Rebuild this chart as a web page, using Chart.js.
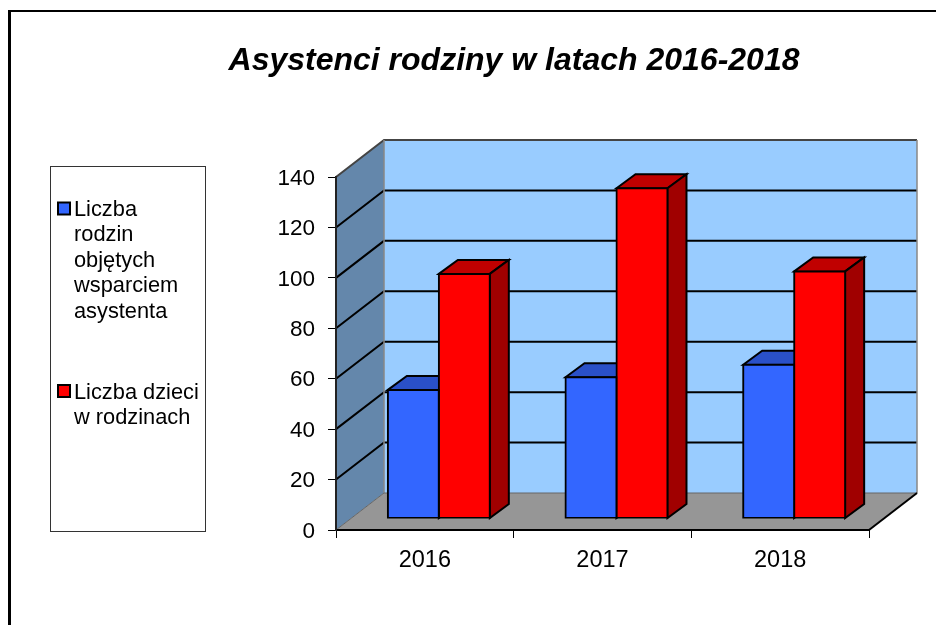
<!DOCTYPE html>
<html lang="pl">
<head>
<meta charset="utf-8">
<title>Asystenci rodziny w latach 2016-2018</title>
<script src="https://cdn.jsdelivr.net/npm/chart.js@4"></script>
<style>
html,body{margin:0;padding:0;background:#fff;overflow:hidden}
#wrap{position:relative;width:936px;height:625px}
#frame{position:absolute;left:8px;top:10px;right:-10px;bottom:-10px;border-left:3px solid #000;border-top:2px solid #000}
canvas{position:absolute;left:0;top:0}
</style>
</head>
<body>
<div id="wrap">
<div id="frame"></div>
<canvas id="c" width="936" height="625"></canvas>
</div>
<script>
const chartTitle = 'Asystenci rodziny w latach 2016-2018';
const categories = ['2016', '2017', '2018'];
const familyValues = [51, 56, 61];
const childValues = [97, 131, 98];
const familyLabel = ['Liczba', 'rodzin', 'objętych', 'wsparciem', 'asystenta'];
const childLabel = ['Liczba dzieci', 'w rodzinach'];
const axisMax = 140;
const axisStep = 20;

const wallDepth = {x: 48, y: -37};
const barShift = {x: 14, y: -11.5};
const barDepth = {x: 19, y: -14};
const FONT = '"Liberation Sans", Arial, sans-serif';

function poly(ctx, pts, fill, stroke, lw) {
  ctx.beginPath();
  pts.forEach((p, i) => i ? ctx.lineTo(p[0], p[1]) : ctx.moveTo(p[0], p[1]));
  ctx.closePath();
  if (fill) { ctx.fillStyle = fill; ctx.fill(); }
  if (stroke) { ctx.strokeStyle = stroke; ctx.lineWidth = lw; ctx.lineJoin = 'miter'; ctx.stroke(); }
}

const scene3d = {
  id: 'scene3d',
  afterLayout(chart) {
    const t = chart.titleBlock;
    t.left = 92; t.right = 936;
  },
  beforeDraw(chart) {
    const {ctx, chartArea: a, scales: {x, y}} = chart;
    const d = wallDepth, top = a.top, bot = a.bottom, l = a.left, r = a.right;
    // Optical centring of the tick labels on their tick marks
    y.getLabelItems().forEach(it => { it.textOffset = 1.5; });
    ctx.save();
    poly(ctx, [[l + d.x, top + d.y], [r + d.x, top + d.y], [r + d.x, bot + d.y], [l + d.x, bot + d.y]], '#99CCFF');
    poly(ctx, [[l, top], [l + d.x, top + d.y], [l + d.x, bot + d.y], [l, bot]], '#6487AB');
    poly(ctx, [[l, bot], [r, bot], [r + d.x, bot + d.y], [l + d.x, bot + d.y]], '#969696');
    ctx.lineCap = 'butt';
    for (let v = axisStep; v < axisMax; v += axisStep) {
      const py = y.getPixelForValue(v);
      ctx.strokeStyle = '#000'; ctx.lineWidth = 2;
      ctx.beginPath();
      ctx.moveTo(l, py); ctx.lineTo(l + d.x, py + d.y); ctx.lineTo(r + d.x, py + d.y);
      ctx.stroke();
    }
    ctx.strokeStyle = '#444'; ctx.lineWidth = 2;
    ctx.beginPath();
    ctx.moveTo(l, top); ctx.lineTo(l + d.x, top + d.y); ctx.lineTo(r + d.x, top + d.y);
    ctx.stroke();
    ctx.strokeStyle = '#888'; ctx.lineWidth = 1.5;
    ctx.beginPath();
    ctx.moveTo(r + d.x, top + d.y); ctx.lineTo(r + d.x, bot + d.y);
    ctx.moveTo(l + d.x, top + d.y); ctx.lineTo(l + d.x, bot + d.y);
    ctx.stroke();
    ctx.strokeStyle = '#666'; ctx.lineWidth = 1;
    ctx.beginPath();
    ctx.moveTo(l, bot); ctx.lineTo(l + d.x, bot + d.y); ctx.lineTo(r + d.x, bot + d.y);
    ctx.stroke();
    ctx.strokeStyle = '#000'; ctx.lineWidth = 2;
    ctx.beginPath();
    ctx.moveTo(r, bot); ctx.lineTo(r + d.x, bot + d.y);
    ctx.stroke();
    ctx.restore();
  },
  beforeDatasetsDraw(chart) {
    const {ctx} = chart;
    const faces = [['#2A50C8', '#1F3C99'], ['#C00000', '#A00000']];
    ctx.save();
    ctx.translate(barShift.x, barShift.y);
    const dx = barDepth.x, dy = barDepth.y;
    chart.data.datasets.forEach((ds, i) => {
      chart.getDatasetMeta(i).data.forEach(el => {
        const p = el.getProps(['x', 'y', 'base', 'width'], true);
        const x0 = p.x - p.width / 2, x1 = p.x + p.width / 2;
        poly(ctx, [[x0, p.y], [x0 + dx, p.y + dy], [x1 + dx, p.y + dy], [x1, p.y]], faces[i][0], '#000', 2);
        poly(ctx, [[x1, p.y], [x1 + dx, p.y + dy], [x1 + dx, p.base + dy], [x1, p.base]], faces[i][1], '#000', 2);
      });
    });
    ctx.restore();
    ctx.save();
    ctx.translate(barShift.x, barShift.y);
  },
  afterDatasetsDraw(chart) {
    chart.ctx.restore();
  },
  afterDraw(chart) {
    const {ctx} = chart;
    ctx.save();
    ctx.fillStyle = '#fff'; ctx.strokeStyle = '#333'; ctx.lineWidth = 1;
    ctx.fillRect(50.5, 166.5, 155, 365);
    ctx.strokeRect(50.5, 166.5, 155, 365);
    ctx.font = '21.8px ' + FONT;
    ctx.textBaseline = 'middle'; ctx.textAlign = 'left';
    const drawEntry = (lines, color, firstY) => {
      ctx.fillStyle = color; ctx.strokeStyle = '#000'; ctx.lineWidth = 2;
      ctx.fillRect(58, firstY - 6, 12, 12);
      ctx.strokeRect(58, firstY - 6, 12, 12);
      ctx.fillStyle = '#000';
      lines.forEach((s, i) => ctx.fillText(s, 74, firstY + 1.5 + i * 25.4));
    };
    drawEntry(familyLabel, chart.data.datasets[0].backgroundColor, 208.5);
    drawEntry(childLabel, chart.data.datasets[1].backgroundColor, 391);
    ctx.restore();
  }
};

const barBase = {borderColor: '#000', borderWidth: 2, borderSkipped: false, inflateAmount: 1};

new Chart(document.getElementById('c'), {
  type: 'bar',
  data: {
    labels: categories,
    datasets: [
      {label: familyLabel.join(' '), data: familyValues, backgroundColor: '#3366FF', ...barBase},
      {label: childLabel.join(' '), data: childValues, backgroundColor: '#FF0000', ...barBase}
    ]
  },
  options: {
    responsive: false,
    animation: false,
    categoryPercentage: 0.574,
    barPercentage: 1,
    layout: {padding: {left: 0, right: 67, top: 0, bottom: 0}},
    plugins: {
      legend: {display: false},
      tooltip: {enabled: false},
      title: {
        display: true,
        text: chartTitle,
        color: '#000',
        font: {family: FONT, size: 32, weight: 'bold', style: 'italic', lineHeight: 1.2},
        padding: {top: 41.8, bottom: 96.8}
      }
    },
    scales: {
      x: {
        grid: {drawOnChartArea: false, drawTicks: true, tickLength: 8, tickColor: '#000', tickWidth: 1, offset: true},
        border: {display: true, color: '#000', width: 2},
        ticks: {color: '#000', font: {family: FONT, size: 23.5}, padding: 8, maxRotation: 0},
        afterFit(s) { s.height = 95; }
      },
      y: {
        min: 0, max: axisMax,
        grid: {drawOnChartArea: false, drawTicks: true, tickLength: 8, tickColor: '#000', tickWidth: 1},
        border: {display: true, color: '#222', width: 2},
        ticks: {stepSize: axisStep, color: '#000', font: {family: FONT, size: 22.5}, padding: 13},
        afterFit(s) { s.width = 336; }
      }
    }
  },
  plugins: [scene3d]
});
</script>
</body>
</html>
